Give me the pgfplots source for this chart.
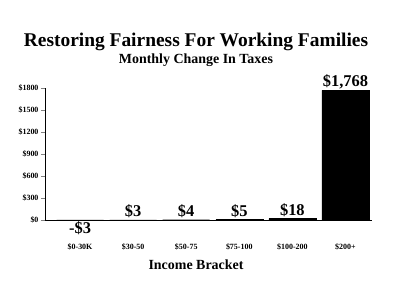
\documentclass[border=0pt]{standalone}
\usepackage{fontspec}
\setmainfont{Liberation Serif}
\usepackage{pgfplots}
\pgfplotsset{compat=1.18}
\begin{document}
\begin{tikzpicture}
\path[use as bounding box] (0,0) rectangle (400bp,304bp);
\node[font=\bfseries\fontsize{19.5}{22}\selectfont] at (196bp,262bp) {Restoring Fairness For Working Families};
\node[font=\bfseries\fontsize{14}{16}\selectfont] at (196bp,244bp) {Monthly Change In Taxes};
\node[font=\bfseries\fontsize{14}{16}\selectfont] at (196bp,39bp) {Income Bracket};
\begin{axis}[
  at={(45bp,84bp)}, anchor=south west,
  scale only axis, width=327bp, height=132bp,
  xmin=-0.66, xmax=5.5, ymin=0, ymax=1800, clip=false,
  axis x line=bottom, axis y line=left,
  axis line style={-, line width=0.9pt},
  ytick={0,300,600,900,1200,1500,1800},
  yticklabels={\$0,\$300,\$600,\$900,\$1200,\$1500,\$1800},
  yticklabel style={font=\bfseries\fontsize{8}{9}\selectfont, xshift=1bp},
  ytick style={line width=0.8pt},
  tick align=outside, major tick length=4bp,
  xtick={0,1,2,3,4,5},
  xticklabels={\$0-30K,\$30-50,\$50-75,\$75-100,\$100-200,\$200+},
  xtick style={draw=none},
  xticklabel style={font=\bfseries\fontsize{8}{9}\selectfont, yshift=-16bp},
  ybar, bar width=47bp,
  point meta=explicit symbolic,
  visualization depends on={rawy \as \rawy},
  nodes near coords,
  every node near coord/.append style={font=\bfseries\fontsize{16.5}{18}\selectfont, inner sep=1.5bp,
    anchor={\ifdim\rawy pt<0pt north\else south\fi}},
]
\addplot[fill=black, draw=black] coordinates {
 (0,-3) [-\$3]
 (1,3) [\$3]
 (2,4) [\$4]
 (3,5) [\$5]
 (4,18) [\$18]
 (5,1768) [\$1,768]
};
\end{axis}
\end{tikzpicture}
\end{document}
